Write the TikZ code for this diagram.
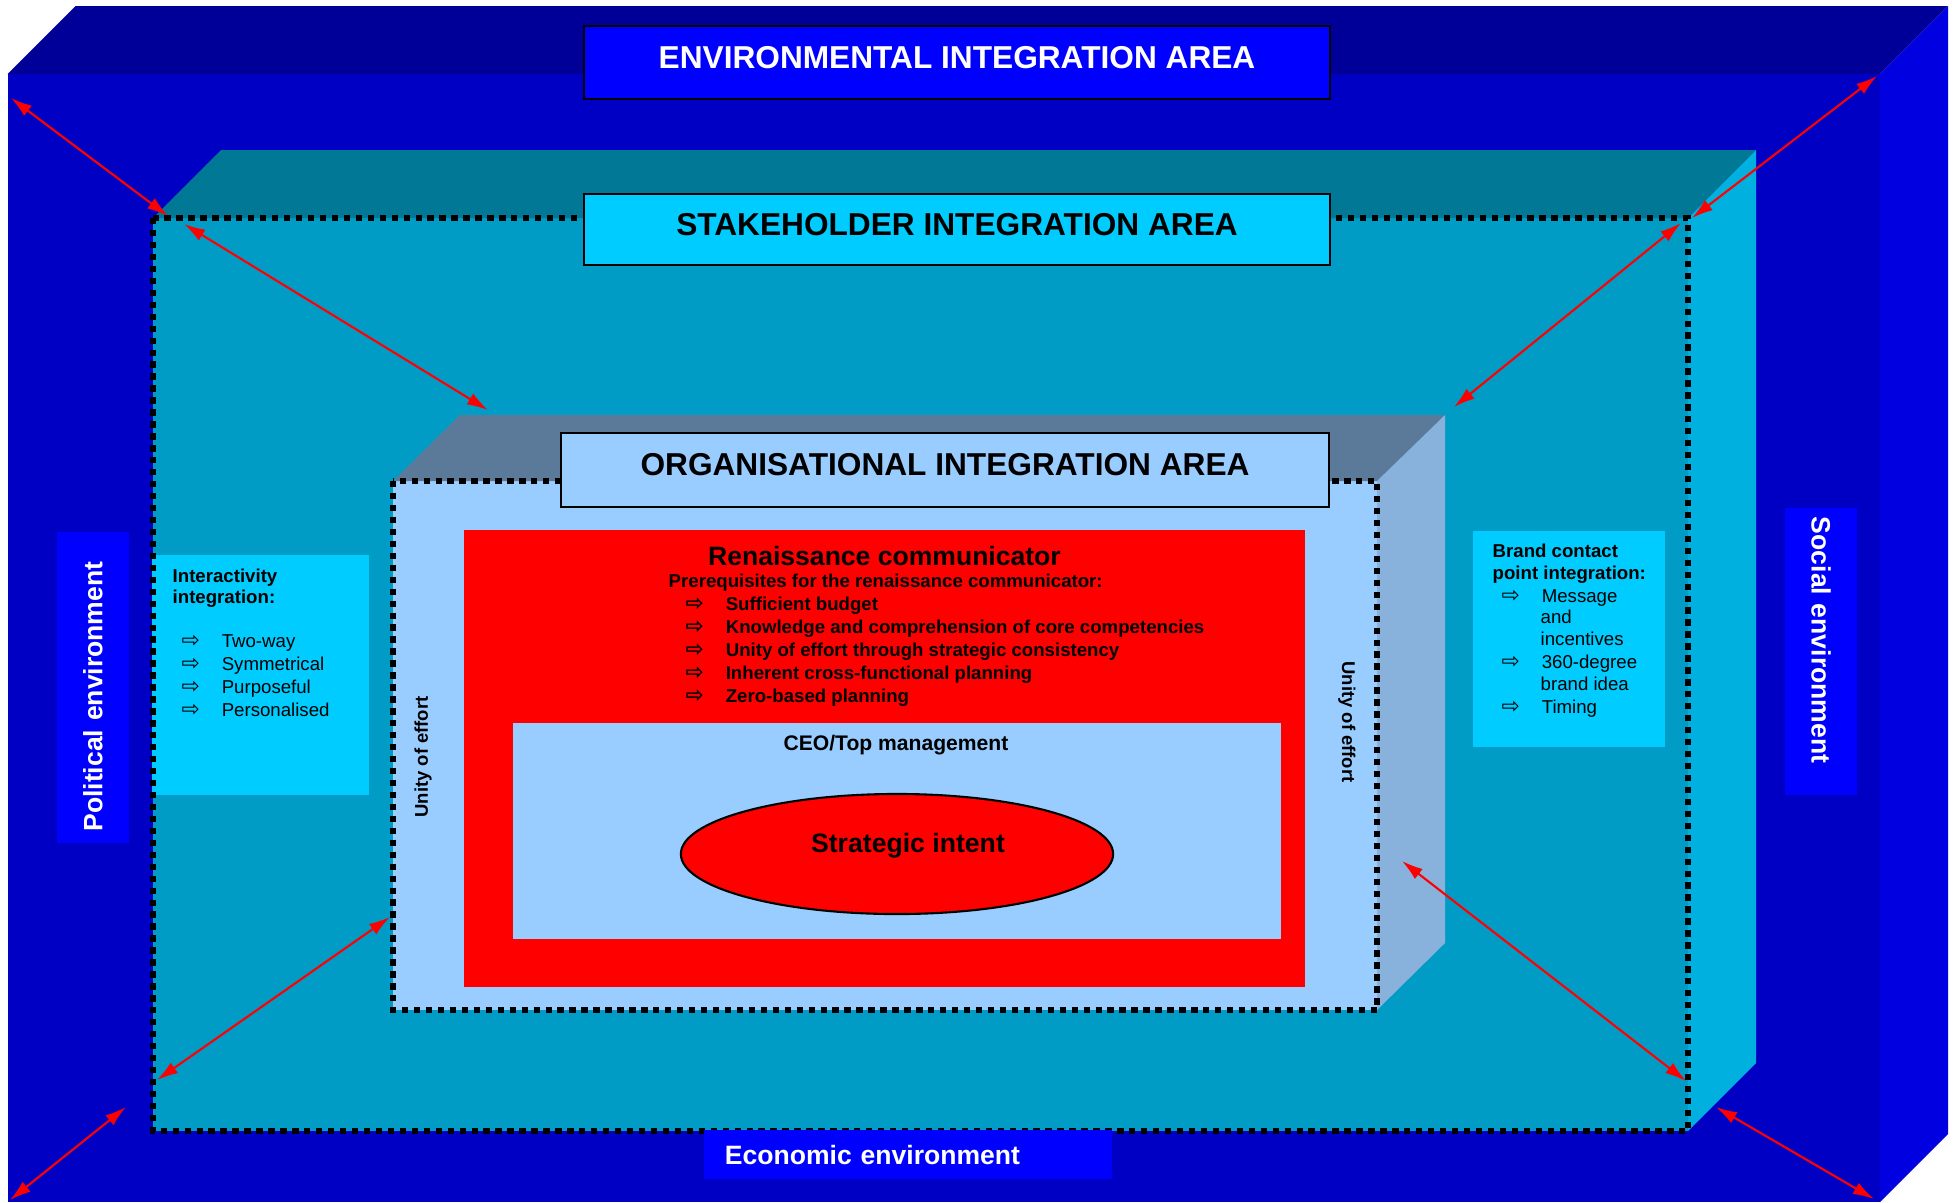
\documentclass[tikz,border=0pt]{standalone}
\usepackage{fontspec}
\setmainfont{Liberation Sans}
\newfontfamily\arrfont{DejaVu Sans}
\usetikzlibrary{arrows.meta,shapes.geometric,positioning}

\definecolor{envtop}{RGB}{0,0,153}
\definecolor{envfront}{RGB}{0,0,196}
\definecolor{envside}{RGB}{0,0,224}
\definecolor{envbox}{RGB}{0,0,255}
\definecolor{shtop}{RGB}{0,120,150}
\definecolor{shfront}{RGB}{0,156,198}
\definecolor{shside}{RGB}{0,176,222}
\definecolor{shbox}{RGB}{0,204,255}
\definecolor{orgtop}{RGB}{91,122,153}
\definecolor{orgfront}{RGB}{153,204,255}
\definecolor{orgside}{RGB}{136,178,220}

\newcommand{\fsz}[1]{\fontsize{#1}{#1}\selectfont}
\newcommand{\arr}{\makebox[11.4pt][l]{\arrfont\fsz{6.2pt}⇨}}

\begin{document}
\begin{tikzpicture}[x=0.01cm,y=-0.01cm,>={Latex[length=6pt,width=3.6pt]}]

  \tikzstyle{AREA}=[draw=black,line width=0.6pt,inner sep=0pt,minimum width=7.46cm,
    font=\fsz{9pt}\bfseries,text depth=3pt];
  \tikzstyle{DOTS}=[line width=1.7pt,dash pattern=on 1.8pt off 1.6pt];
  \tikzstyle{ENVLAB}=[fill=envbox,text=white,inner sep=0pt,align=left,
    font=\fsz{7.55pt}\bfseries];
  \tikzstyle{BOX}=[fill=shbox,inner sep=0pt];
  \tikzstyle{TXT}=[anchor=base west,inner sep=0pt,font=\fsz{5.3pt}];
  \tikzstyle{BTXT}=[TXT,font=\fsz{5.3pt}\bfseries];
  \tikzstyle{LINK}=[<->,red,line width=0.6pt];

  \useasboundingbox (0,0) rectangle (1954,1202);

  %% environmental area
  \fill[envfront] (7.5,74) rectangle (1880,1202);
  \fill[envtop] (7.5,74) -- (75.5,6) -- (1948,6) -- (1880,74) -- cycle;
  \fill[envside] (1880,74) -- (1948,6) -- (1948,1134) -- (1880,1202) -- cycle;

  %% stakeholder area
  \fill[shfront] (153,218) rectangle (1688,1131);
  \fill[shtop] (153,218) -- (221,150) -- (1756,150) -- (1688,218) -- cycle;
  \fill[shside] (1688,218) -- (1756,150) -- (1756,1063) -- (1688,1131) -- cycle;

  \node [BOX,minimum width=2.17cm,minimum height=2.4cm] (ia) at (260.5,675) {};
  \node [BOX,minimum width=1.92cm,minimum height=2.16cm] (bc) at (1569,639) {};

  \draw[DOTS] (153,218) rectangle (1688,1131);

  %% organisational area
  \fill[orgfront] (393,481) rectangle (1377,1010);
  \fill[orgtop] (393,481) -- (460,415) -- (1445,415) -- (1377,481) -- cycle;
  \fill[orgside] (1377,481) -- (1445,415) -- (1445,943) -- (1377,1010) -- cycle;
  \draw[DOTS] (393,481) rectangle (1377,1010);

  \node [fill=red,inner sep=0pt,minimum width=8.41cm,minimum height=4.57cm] (rc) at (884.5,758.5) {};
  \node [fill=orgfront,inner sep=0pt,minimum width=7.68cm,minimum height=2.16cm] (ceo) at (897,831) {};
  \node [ellipse,draw=black,line width=0.6pt,fill=red,inner sep=0pt,minimum width=4.32cm,
    minimum height=1.2cm] (si) at (897,854) {};

  %% headings
  \node [AREA,fill=envbox,text=white,minimum height=0.73cm] (env) at (957,62.5) {ENVIRONMENTAL INTEGRATION AREA};
  \node [AREA,fill=shbox,minimum height=0.71cm] (sh) at (957,229.5) {STAKEHOLDER INTEGRATION AREA};
  \node [AREA,fill=orgfront,minimum width=7.68cm,minimum height=0.74cm] (org) at (945,470) {ORGANISATIONAL INTEGRATION AREA};

  \node [ENVLAB,rotate=90,text width=2.88cm,inner xsep=0.115cm,minimum height=0.72cm] (pol) at (93,687.5) {Political environment};
  \node [ENVLAB,rotate=-90,text width=2.69cm,inner xsep=0.09cm,minimum height=0.72cm] (soc) at (1821,651.5) {Social environment};
  \node [ENVLAB,text width=3.66cm,inner xsep=0.21cm,minimum height=0.49cm] (eco) at (908,1154.5) {Economic environment};

  %% renaissance communicator
  \node [inner sep=0pt,font=\fsz{7.55pt}\bfseries] (rct) at (884.5,556) {Renaissance communicator};
  \node [BTXT] (pre) at (668,587) {Prerequisites for the renaissance communicator:};
  \foreach \t [count=\i from 0] in {Sufficient budget,Knowledge and comprehension of core competencies,
    Unity of effort through strategic consistency,Inherent cross-functional planning,Zero-based planning}
    \node [BTXT] (pr\i) at (685,{610+23*\i}) {\arr\t};

  \node [inner sep=0pt,font=\fsz{6pt}\bfseries] (ceot) at (896,745) {CEO/Top management};
  \node [inner sep=0pt,font=\fsz{7.57pt}\bfseries] (sit) at (908,846) {Strategic intent};

  \node [inner sep=0pt,rotate=90,font=\fsz{5.25pt}\bfseries] (ul) at (423,757) {Unity of effort};
  \node [inner sep=0pt,rotate=-90,font=\fsz{5.25pt}\bfseries] (ur) at (1347,722) {Unity of effort};

  %% interactivity / brand contact
  \node [BTXT] (it1) at (172,582) {Interactivity};
  \node [BTXT] (it2) at (172,603) {integration:};
  \foreach \t [count=\i from 0] in {Two-way,Symmetrical,Purposeful,Personalised}
    \node [TXT] (ii\i) at (181,{647+23*\i}) {\arr\t};

  \node [BTXT] (bt1) at (1492,557) {Brand contact};
  \node [BTXT] (bt2) at (1492,579) {point integration:};
  \node [TXT] (bi1) at (1501,602) {\arr Message};
  \node [TXT] (bi1b) at (1540,623) {and};
  \node [TXT] (bi1c) at (1540,645) {incentives};
  \node [TXT] (bi2) at (1501,668) {\arr 360-degree};
  \node [TXT] (bi2b) at (1540,690) {brand idea};
  \node [TXT] (bi3) at (1501,713) {\arr Timing};

  %% links between the areas
  \coordinate (l1a) at (11,98);     \coordinate (l1b) at (168,216);
  \coordinate (l2a) at (184,224);   \coordinate (l2b) at (488,410);
  \coordinate (l3a) at (1877,76);   \coordinate (l3b) at (1692,218);
  \coordinate (l4a) at (1681,223);  \coordinate (l4b) at (1454,407);
  \coordinate (l5a) at (390,917);   \coordinate (l5b) at (157,1080);
  \coordinate (l6a) at (126,1107);  \coordinate (l6b) at (10,1200);
  \coordinate (l7a) at (1402,861);  \coordinate (l7b) at (1686,1081);
  \coordinate (l8a) at (1716,1107); \coordinate (l8b) at (1874,1199);

  \foreach \k in {1,...,8}
    \draw[LINK] (l\k a) -- (l\k b);

\end{tikzpicture}
\end{document}
